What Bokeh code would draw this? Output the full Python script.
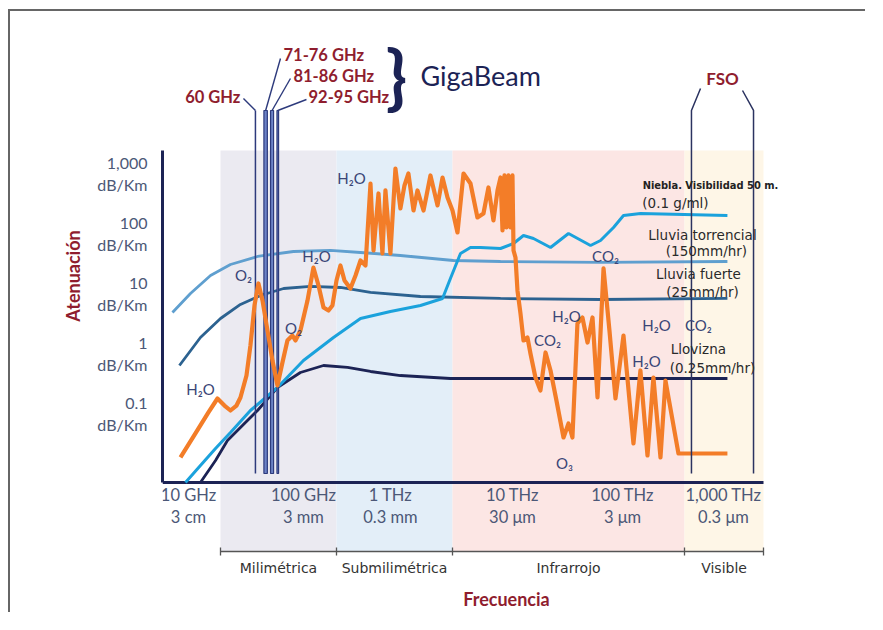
import numpy as np
from bokeh.plotting import figure
from bokeh.models import FixedTicker, Range1d
from bokeh.core.properties import value
from bokeh.embed import file_html
from bokeh.resources import INLINE

# x values: log10(frequency / GHz); y values: log10(attenuation / (dB/km))
band_names = ["Milimétrica", "Submilimétrica", "Infrarrojo", "Visible"]
band_edges = [1.477, 2.477, 3.477, 5.477, 6.158]
band_colors = ["#ebeaf1", "#e3eef8", "#fce6e4", "#fef6e7"]

freq_labels = ["10 GHz\n3 cm", "100 GHz\n3 mm", "1 THz\n0.3 mm",
               "10 THz\n30 μm", "100 THz\n3 μm", "1,000 THz\n0.3 μm"]
freq_label_x = [1.201, 2.192, 2.942, 3.994, 4.943, 5.813]

att_ticks = [-1, 0, 1, 2, 3]
att_labels = ["0.1\ndB/Km", "1\ndB/Km", "10\ndB/Km", "100\ndB/Km", "1,000\ndB/Km"]

link_60_ghz = 60
gigabeam_lo_ghz = [71, 81, 92]
gigabeam_hi_ghz = [76, 86, 95]
gigabeam_labels = ["71-76 GHz", "81-86 GHz", "92-95 GHz"]

torr_x = [1.063, 1.218, 1.391, 1.563, 1.796, 2.106, 2.425, 2.684, 3.028, 3.485, 3.891, 4.753, 5.847]
torr_y = [0.683, 1.0, 1.3, 1.483, 1.617, 1.7, 1.717, 1.683, 1.633, 1.55, 1.533, 1.517, 1.533]

heavy_x = [1.123, 1.304, 1.477, 1.649, 1.822, 2.021, 2.253, 2.511, 2.770, 3.201, 3.891, 4.753, 5.847]
heavy_y = [-0.2, 0.267, 0.583, 0.817, 0.967, 1.083, 1.117, 1.1, 1.017, 0.95, 0.917, 0.9, 0.917]

drizzle_x = [1.304, 1.434, 1.537, 1.666, 1.796, 1.968, 2.166, 2.365, 2.572, 2.770, 3.028, 3.459, 4.322, 5.847]
drizzle_y = [-2.15, -1.783, -1.45, -1.2, -0.95, -0.567, -0.317, -0.2, -0.233, -0.3, -0.367, -0.417, -0.417, -0.417]

fog_x = [1.175, 1.304, 1.434, 1.563, 1.735, 1.968, 2.192, 2.451, 2.684, 2.942,
         3.201, 3.391, 3.459, 3.546, 3.632, 3.718, 3.891, 4.003, 4.089, 4.175,
         4.322, 4.477, 4.667, 4.753, 4.865, 4.951, 5.098, 5.847]
fog_y = [-2.15, -1.867, -1.583, -1.317, -0.95, -0.567, -0.117, 0.267, 0.583, 0.7,
         0.8, 0.917, 1.25, 1.667, 1.767, 1.767, 1.75, 1.833, 1.967, 1.917,
         1.767, 2.0, 1.8, 1.883, 2.1, 2.3, 2.333, 2.3]

gas_x = [1.132, 1.261, 1.373, 1.451, 1.511, 1.563, 1.615, 1.649, 1.701, 1.735,
         1.770, 1.804, 1.839, 1.882, 1.925, 1.968, 2.011, 2.054, 2.097, 2.123,
         2.166, 2.227, 2.278, 2.322, 2.365, 2.408, 2.442, 2.477, 2.511, 2.546,
         2.597, 2.641, 2.684, 2.727, 2.770, 2.796, 2.839, 2.873, 2.899, 2.942,
         2.985, 3.028, 3.063, 3.097, 3.141, 3.175, 3.227, 3.253, 3.287, 3.348,
         3.391, 3.434, 3.477, 3.520, 3.572, 3.632, 3.692, 3.744, 3.787, 3.830,
         3.865, 3.891, 3.908, 3.925, 3.942, 3.959, 3.977, 3.994, 4.003, 4.020,
         4.037, 4.063, 4.089, 4.123, 4.149, 4.192, 4.235, 4.279, 4.322, 4.373,
         4.434, 4.477, 4.511, 4.554, 4.597, 4.641, 4.684, 4.727, 4.779, 4.830,
         4.882, 4.951, 5.037, 5.097, 5.158, 5.209, 5.270, 5.313, 5.425, 5.847]
gas_y = [-1.733, -1.333, -0.983, -0.75, -0.867, -0.95, -0.867, -0.733, -0.367, 0.133,
         0.8, 1.167, 0.883, 0.383, -0.117, -0.533, -0.15, 0.217, 0.3, 0.217,
         0.383, 0.883, 1.433, 1.133, 0.767, 0.717, 0.8, 1.217, 1.467, 1.217,
         1.083, 1.3, 1.55, 1.467, 2.833, 1.717, 2.667, 1.667, 2.717, 1.667,
         3.083, 2.417, 2.8, 3.0, 2.383, 2.717, 2.383, 2.633, 2.967, 2.467,
         2.933, 2.6, 2.383, 2.017, 3.0, 2.833, 2.267, 2.333, 2.767, 2.217,
         2.717, 2.933, 2.05, 2.967, 2.1, 2.967, 2.1, 2.967, 1.717, 1.6,
         1.05, 0.667, 0.217, 0.267, 0.0, -0.4, -0.617, 0.017, -0.283, -0.783,
         -1.4, -1.167, -1.4, 0.5, 0.6, 0.183, 0.6, -0.733, 1.417, 0.383,
         -0.75, 0.3, -1.5, -0.283, -1.7, -0.4, -1.733, -0.45, -1.667, -1.667]

mol_text = ["H₂O", "O₂", "O₂", "H₂O", "H₂O", "CO₂", "H₂O", "CO₂", "O₃", "H₂O", "CO₂", "H₂O"]
mol_x = [1.304, 1.675, 2.106, 2.305, 2.606, 4.796, 4.460, 4.296, 4.442, 5.236, 5.597, 5.149]
mol_y = [-0.6, 1.3, 0.433, 1.633, 2.917, 1.633, 0.633, 0.217, -1.817, 0.467, 0.467, -0.117]

cond_text = ["(0.1 g/ml)", "Lluvia torrencial", "(150mm/hr)", "Lluvia fuerte",
             "(25mm/hr)", "Llovizna", "(0.25mm/hr)"]
cond_x = [5.399, 5.632, 5.666, 5.597, 5.632, 5.597, 5.718]
cond_y = [2.5, 1.983, 1.7, 1.317, 1.017, 0.083, -0.25]

NAVY = "#1c2355"
RED = "#8f1d2e"
SLATE = "#4c5877"
FRAME = "#666666"

p = figure(width=865, height=612, output_backend="svg", toolbar_location=None,
           title=None, x_range=Range1d(0.977, 6.908), y_range=Range1d(-3.3, 5.883),
           min_border_left=162, min_border_right=15, min_border_top=0, min_border_bottom=61)
p.outline_line_color = None
p.grid.visible = False
p.background_fill_color = None
p.border_fill_color = None
p.styles = {"background": (f"linear-gradient({FRAME},{FRAME}) 8px 9px / 2px 603px no-repeat, "
                           f"linear-gradient({FRAME},{FRAME}) 8px 9px / 857px 2px no-repeat, #ffffff")}

# background spectral bands
p.quad(left=band_edges[:-1], right=band_edges[1:], bottom=-3.3, top=3.383,
       fill_color=band_colors, line_color=None)

# frequency axis rule and labels
p.line(x=[0.977, band_edges[-1]], y=[-2.15, -2.15], line_color=NAVY, line_width=3)
p.text(x=freq_label_x, y=[-2.55] * len(freq_label_x), text=freq_labels,
       text_font=value("Lato"), text_font_size="16.5px", text_color=SLATE,
       text_align="center", text_baseline="middle", text_line_height=1.1)

# attenuation curves
p.line(torr_x, torr_y, line_color="#5f9fcf", line_width=2.8)
p.line(heavy_x, heavy_y, line_color="#2c6290", line_width=2.8)
p.line(drizzle_x, drizzle_y, line_color=NAVY, line_width=2.8)
p.line(fog_x, fog_y, line_color="#1ba2dc", line_width=3)

# radio links
x60 = np.log10(link_60_ghz)
p.segment(x0=[x60], y0=[-2.0], x1=[x60], y1=[4.05], line_color="#2d3a7c", line_width=1.5)
gb_lo = np.log10(gigabeam_lo_ghz)
gb_hi = np.log10(gigabeam_hi_ghz)
p.quad(left=gb_lo, right=gb_hi, bottom=-2.0, top=4.05,
       fill_color="#6d83c7", line_color="#2d3a7c", line_width=1.2)

p.line(gas_x, gas_y, line_color="#f37d28", line_width=4.2, line_join="round")

# leader lines
gb_mid = (gb_lo + gb_hi) / 2
p.segment(x0=[1.675, 1.994, 2.080, 2.218], y0=[4.25, 4.917, 4.583, 4.233],
          x1=[x60, gb_mid[0], gb_mid[1], gb_mid[2]], y1=[4.05] * 4,
          line_color="#2d3a7c", line_width=1.4)
p.text(x=[1.649], y=[4.267], text=["60 GHz"], text_font=value("Lato"),
       text_font_style="bold", text_font_size="16.5px", text_color=RED,
       text_align="right", text_baseline="middle")
p.text(x=[2.020, 2.106, 2.236], y=[4.967, 4.633, 4.267], text=gigabeam_labels,
       text_font=value("Lato"), text_font_style="bold", text_font_size="16.5px",
       text_color=RED, text_align="left", text_baseline="middle")
p.text(x=[2.994], y=[4.64], text=["}"], text_font=value("Lato"), text_font_style="bold",
       text_font_size="70px", text_color=NAVY, text_align="center", text_baseline="middle")
p.text(x=[3.201], y=[4.633], text=["GigaBeam"], text_font=value("Lato"),
       text_font_size="27px", text_color=NAVY, text_align="left", text_baseline="middle")

# FSO
p.line([5.615, 5.537, 5.537], [4.417, 4.05, -2.0], line_color="#2b3360", line_width=1.5)
p.line([5.977, 6.072, 6.072], [4.383, 4.05, -2.0], line_color="#2b3360", line_width=1.5)
p.text(x=[5.804], y=[4.583], text=["FSO"], text_font=value("Lato"), text_font_style="bold",
       text_font_size="17px", text_color=RED, text_align="center", text_baseline="middle")

# molecule labels
p.text(x=mol_x, y=mol_y, text=mol_text, text_font=value("Lato"), text_font_size="15px",
       text_color="#3a4677", text_align="center", text_baseline="middle")

# condition labels
p.text(x=[5.701], y=[2.8], text=["Niebla. Visibilidad 50 m."],
       text_font=value("DejaVu Sans Condensed"), text_font_style="bold",
       text_font_size="11px", text_color="#222222", text_align="center", text_baseline="middle")
p.text(x=cond_x, y=cond_y, text=cond_text, text_font=value("DejaVu Sans"),
       text_font_size="13.5px", text_color="#2a2a2a", text_align="center", text_baseline="middle")

# left axis
ya = p.yaxis[0]
ya.ticker = FixedTicker(ticks=att_ticks)
ya.major_label_overrides = dict(zip(att_ticks, att_labels))
ya.bounds = (-2.15, 3.383)
ya.axis_line_color = NAVY
ya.axis_line_width = 3
ya.major_tick_line_color = None
ya.minor_tick_line_color = None
ya.major_tick_out = 0
ya.major_tick_in = 0
ya.major_label_standoff = 15
ya.major_label_text_font = "Lato"
ya.major_label_text_font_size = "16px"
ya.major_label_text_color = SLATE
ya.axis_label = "Atenuación"
ya.axis_label_text_font = "Lato"
ya.axis_label_text_font_style = "bold"
ya.axis_label_text_font_size = "18px"
ya.axis_label_text_color = RED
ya.axis_label_standoff = 10

# bottom (band) axis
centers = [round((a + b) / 2, 3) for a, b in zip(band_edges[:-1], band_edges[1:])]
xa = p.xaxis[0]
xa.ticker = FixedTicker(ticks=centers, minor_ticks=band_edges)
xa.major_label_overrides = dict(zip(centers, band_names))
xa.bounds = (band_edges[0], band_edges[-1])
xa.axis_line_color = "#555555"
xa.axis_line_width = 1.3
xa.major_tick_line_color = None
xa.major_tick_in = 0
xa.major_tick_out = 0
xa.minor_tick_line_color = "#555555"
xa.minor_tick_line_width = 1.3
xa.minor_tick_in = 4
xa.minor_tick_out = 4
xa.major_label_standoff = 4
xa.major_label_text_font = "DejaVu Sans"
xa.major_label_text_font_size = "14px"
xa.major_label_text_color = "#333333"
xa.axis_label = "Frecuencia"
xa.axis_label_text_font = "Lato"
xa.axis_label_text_font_style = "bold"
xa.axis_label_text_font_size = "18px"
xa.axis_label_text_color = RED
xa.axis_label_standoff = 9

open("out.html", "w").write(file_html(p, INLINE))
